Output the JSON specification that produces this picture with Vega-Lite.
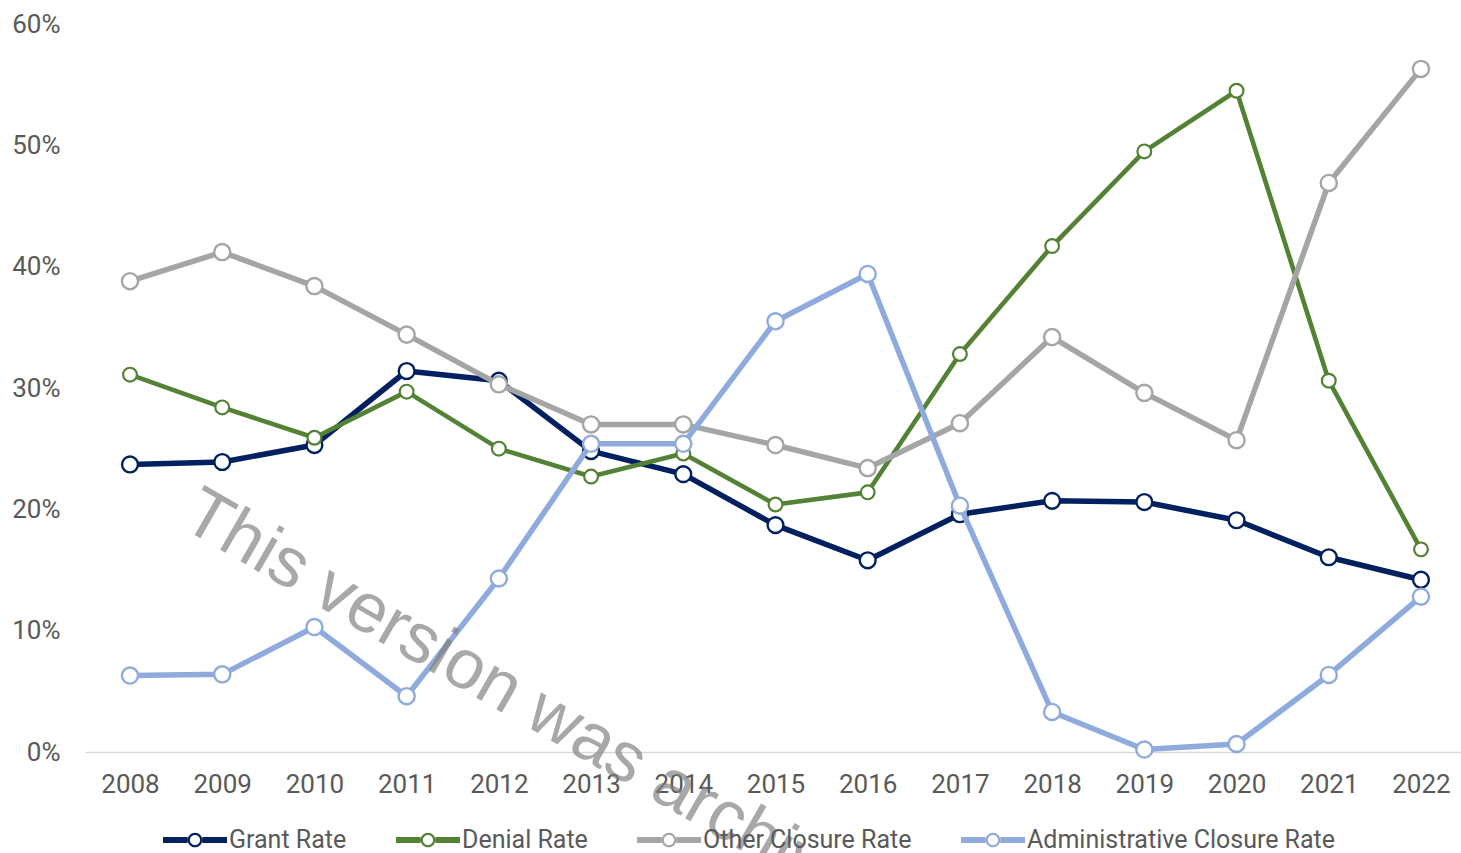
{
  "$schema": "https://vega.github.io/schema/vega-lite/v6.json",
  "width": 1376,
  "height": 728,
  "autosize": {"type": "none"},
  "padding": {"left": 85, "top": 24, "right": 0, "bottom": 101},
  "background": "white",
  "config": {"view": {"stroke": null}},
  "datasets": {
    "rates": [
      {"year": 2008, "series": "Grant Rate", "value": 0.237},
      {"year": 2009, "series": "Grant Rate", "value": 0.239},
      {"year": 2010, "series": "Grant Rate", "value": 0.253},
      {"year": 2011, "series": "Grant Rate", "value": 0.314},
      {"year": 2012, "series": "Grant Rate", "value": 0.306},
      {"year": 2013, "series": "Grant Rate", "value": 0.248},
      {"year": 2014, "series": "Grant Rate", "value": 0.229},
      {"year": 2015, "series": "Grant Rate", "value": 0.187},
      {"year": 2016, "series": "Grant Rate", "value": 0.158},
      {"year": 2017, "series": "Grant Rate", "value": 0.196},
      {"year": 2018, "series": "Grant Rate", "value": 0.207},
      {"year": 2019, "series": "Grant Rate", "value": 0.206},
      {"year": 2020, "series": "Grant Rate", "value": 0.191},
      {"year": 2021, "series": "Grant Rate", "value": 0.1605},
      {"year": 2022, "series": "Grant Rate", "value": 0.142},
      {"year": 2008, "series": "Denial Rate", "value": 0.311},
      {"year": 2009, "series": "Denial Rate", "value": 0.284},
      {"year": 2010, "series": "Denial Rate", "value": 0.259},
      {"year": 2011, "series": "Denial Rate", "value": 0.297},
      {"year": 2012, "series": "Denial Rate", "value": 0.250},
      {"year": 2013, "series": "Denial Rate", "value": 0.227},
      {"year": 2014, "series": "Denial Rate", "value": 0.246},
      {"year": 2015, "series": "Denial Rate", "value": 0.204},
      {"year": 2016, "series": "Denial Rate", "value": 0.214},
      {"year": 2017, "series": "Denial Rate", "value": 0.328},
      {"year": 2018, "series": "Denial Rate", "value": 0.417},
      {"year": 2019, "series": "Denial Rate", "value": 0.495},
      {"year": 2020, "series": "Denial Rate", "value": 0.545},
      {"year": 2021, "series": "Denial Rate", "value": 0.306},
      {"year": 2022, "series": "Denial Rate", "value": 0.167},
      {"year": 2008, "series": "Other Closure Rate", "value": 0.388},
      {"year": 2009, "series": "Other Closure Rate", "value": 0.412},
      {"year": 2010, "series": "Other Closure Rate", "value": 0.384},
      {"year": 2011, "series": "Other Closure Rate", "value": 0.344},
      {"year": 2012, "series": "Other Closure Rate", "value": 0.303},
      {"year": 2013, "series": "Other Closure Rate", "value": 0.270},
      {"year": 2014, "series": "Other Closure Rate", "value": 0.270},
      {"year": 2015, "series": "Other Closure Rate", "value": 0.253},
      {"year": 2016, "series": "Other Closure Rate", "value": 0.234},
      {"year": 2017, "series": "Other Closure Rate", "value": 0.271},
      {"year": 2018, "series": "Other Closure Rate", "value": 0.342},
      {"year": 2019, "series": "Other Closure Rate", "value": 0.296},
      {"year": 2020, "series": "Other Closure Rate", "value": 0.257},
      {"year": 2021, "series": "Other Closure Rate", "value": 0.469},
      {"year": 2022, "series": "Other Closure Rate", "value": 0.563},
      {"year": 2008, "series": "Administrative Closure Rate", "value": 0.063},
      {"year": 2009, "series": "Administrative Closure Rate", "value": 0.064},
      {"year": 2010, "series": "Administrative Closure Rate", "value": 0.103},
      {"year": 2011, "series": "Administrative Closure Rate", "value": 0.046},
      {"year": 2012, "series": "Administrative Closure Rate", "value": 0.143},
      {"year": 2013, "series": "Administrative Closure Rate", "value": 0.254},
      {"year": 2014, "series": "Administrative Closure Rate", "value": 0.254},
      {"year": 2015, "series": "Administrative Closure Rate", "value": 0.355},
      {"year": 2016, "series": "Administrative Closure Rate", "value": 0.394},
      {"year": 2017, "series": "Administrative Closure Rate", "value": 0.203},
      {"year": 2018, "series": "Administrative Closure Rate", "value": 0.033},
      {"year": 2019, "series": "Administrative Closure Rate", "value": 0.002},
      {"year": 2020, "series": "Administrative Closure Rate", "value": 0.0066},
      {"year": 2021, "series": "Administrative Closure Rate", "value": 0.0635},
      {"year": 2022, "series": "Administrative Closure Rate", "value": 0.128}
    ],
    "watermark": [
      {"year": 2008.531, "value": 0.1863, "label": "This version was archived"}
    ]
  },
  "data": {"name": "rates"},
  "encoding": {
    "x": {
      "field": "year", "type": "quantitative",
      "scale": {"domain": [2007.512, 2022.434], "nice": false, "zero": false},
      "axis": {
        "title": null,
        "values": [2008, 2009, 2010, 2011, 2012, 2013, 2014, 2015, 2016, 2017, 2018, 2019, 2020, 2021, 2022],
        "format": "d",
        "grid": false,
        "ticks": false,
        "tickSize": 0,
        "domainColor": "#D9D9D9",
        "domainWidth": 1.5,
        "labelFont": "Roboto",
        "labelFontSize": 26,
        "labelColor": "#595959",
        "labelPadding": 19,
        "labelFlush": false,
        "labelOverlap": false
      }
    },
    "y": {
      "field": "value", "type": "quantitative",
      "scale": {"domain": [0, 0.6], "nice": false},
      "axis": {
        "title": null,
        "values": [0, 0.1, 0.2, 0.3, 0.4, 0.5, 0.6],
        "format": ".0%",
        "grid": false,
        "ticks": false,
        "tickSize": 0,
        "domain": false,
        "labelFont": "Roboto",
        "labelFontSize": 26,
        "labelColor": "#595959",
        "labelPadding": 25
      }
    },
    "color": {
      "field": "series", "type": "nominal",
      "scale": {
        "domain": ["Grant Rate", "Denial Rate", "Other Closure Rate", "Administrative Closure Rate"],
        "range": ["#002060", "#548235", "#A5A5A5", "#8FAADC"]
      },
      "legend": {
        "title": null,
        "orient": "none",
        "legendX": 78,
        "legendY": 784,
        "direction": "horizontal",
        "symbolType": "M-1,-0.09L-0.23,-0.09L-0.23,0.09L-1,0.09ZM0.23,-0.09L1,-0.09L1,0.09L0.23,0.09ZM-0.23,0A0.23,0.23,0,1,1,0.23,0A0.23,0.23,0,1,1,-0.23,0ZM-0.16,0A0.16,0.16,0,1,0,0.16,0A0.16,0.16,0,1,0,-0.16,0Z",
        "symbolSize": 4096,
        "symbolStrokeWidth": 0,
        "labelFont": "Roboto",
        "labelFontSize": 25,
        "labelColor": "#595959",
        "labelOffset": 2,
        "labelLimit": 500,
        "columnPadding": 49,
        "encode": {
          "symbols": {
            "update": {
              "fill": {"scale": "color", "field": "value"},
              "stroke": {"value": "transparent"},
              "strokeWidth": {"value": 0},
              "size": {"value": 4096},
              "opacity": {"value": 1},
              "fillOpacity": {"value": 1}
            }
          }
        }
      }
    }
  },
  "layer": [
    {
      "transform": [{"filter": "datum.series === 'Grant Rate'"}],
      "mark": {"type": "line", "strokeWidth": 5.5, "strokeCap": "round", "strokeJoin": "round"}
    },
    {
      "transform": [{"filter": "datum.series === 'Grant Rate'"}],
      "mark": {"type": "point", "filled": false, "fill": "white", "opacity": 1, "strokeWidth": 2.4, "size": 250}
    },
    {
      "transform": [{"filter": "datum.series === 'Denial Rate'"}],
      "mark": {"type": "line", "strokeWidth": 4.6, "strokeCap": "round", "strokeJoin": "round"}
    },
    {
      "transform": [{"filter": "datum.series === 'Denial Rate'"}],
      "mark": {"type": "point", "filled": false, "fill": "white", "opacity": 1, "strokeWidth": 2.2, "size": 190}
    },
    {
      "transform": [{"filter": "datum.series === 'Other Closure Rate'"}],
      "mark": {"type": "line", "strokeWidth": 5.5, "strokeCap": "round", "strokeJoin": "round"}
    },
    {
      "transform": [{"filter": "datum.series === 'Other Closure Rate'"}],
      "mark": {"type": "point", "filled": false, "fill": "white", "opacity": 1, "strokeWidth": 2.4, "size": 260}
    },
    {
      "transform": [{"filter": "datum.series === 'Administrative Closure Rate'"}],
      "mark": {"type": "line", "strokeWidth": 5.5, "strokeCap": "round", "strokeJoin": "round"}
    },
    {
      "transform": [{"filter": "datum.series === 'Administrative Closure Rate'"}],
      "mark": {"type": "point", "filled": false, "fill": "white", "opacity": 1, "strokeWidth": 2.4, "size": 260}
    },
    {
      "data": {"name": "watermark"},
      "mark": {
        "type": "text",
        "align": "left",
        "baseline": "alphabetic",
        "angle": 30,
        "font": "Liberation Sans",
        "fontSize": 70,
        "opacity": 0.68
      },
      "encoding": {
        "color": {"value": "#7F7F7F"},
        "text": {"field": "label"}
      }
    }
  ]
}
